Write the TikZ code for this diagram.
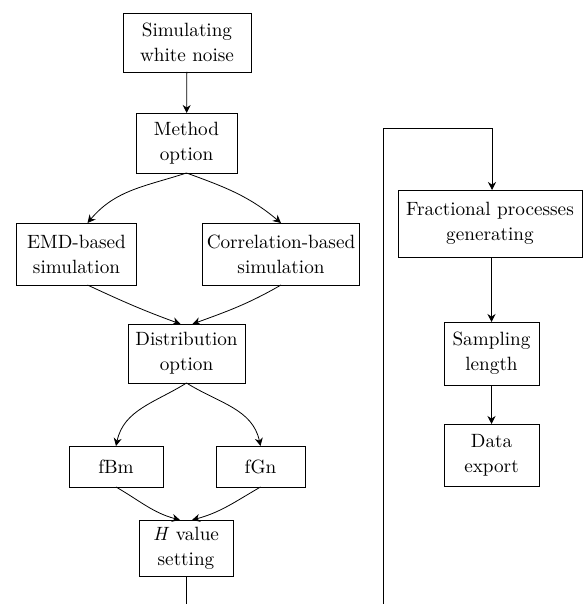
\documentclass[tikz,border=0pt]{standalone}
\usetikzlibrary{arrows.meta,positioning}

\begin{document}
\begin{tikzpicture}[x=0.5pt,y=-0.5pt,>={Stealth[length=4pt,width=4pt,inset=1.3pt]},
    block/.style={draw,rectangle,align=center,inner sep=2pt,outer sep=0pt,font=\fontsize{9.6}{12.5}\selectfont},
    flow/.style={->,thin}]

        \useasboundingbox (0,0) rectangle (584,604);

        \node [block, minimum width=64pt, minimum height=29.5pt] (noise) at (187,42.5) {Simulating\\white noise};
        \node [block, minimum width=50.5pt, minimum height=30pt] (method) at (186.5,143) {Method\\option};
        \node [block, minimum width=60pt, minimum height=31pt] (emd) at (76.5,254) {EMD-based\\simulation};
        \node [block, minimum width=77pt, minimum height=31pt] (corr) at (281,254) {Correlation-based\\simulation};
        \node [block, minimum width=58.5pt, minimum height=29.5pt] (dist) at (186.5,353.5) {Distribution\\option};
        \node [block, minimum width=47pt, minimum height=20.5pt] (fbm) at (116,466.5) {fBm};
        \node [block, minimum width=44.5pt, minimum height=20.5pt] (fgn) at (260.5,466.5) {fGn};
        \node [block, minimum width=47pt, minimum height=28pt] (hset) at (186,548) {\textit{H} value\\setting};
        \node [block, minimum width=92pt, minimum height=33.5pt] (frac) at (490,223.5) {Fractional processes\\generating};
        \node [block, minimum width=47.5pt, minimum height=31.5pt] (samp) at (491.5,353.5) {Sampling\\length};
        \node [block, minimum width=47.5pt, minimum height=31pt] (data) at (491.5,455) {Data\\export};

        \coordinate (hout) at (186,604);
        \coordinate (back) at (383,604);

          \draw [flow] (noise) -- (method);
          \draw [flow] (method.south) to [out=198,in=50] ([xshift=5.5pt]emd.north);
          \draw [flow] (method.south) to [out=-20,in=140] (corr.north);
          \draw [flow] ([xshift=5.5pt]emd.south) to [out=-25,in=160] ([xshift=-3pt]dist.north);
          \draw [flow] (corr.south) to [out=210,in=20] ([xshift=3pt]dist.north);
          \draw [flow] (dist.south) to [out=212,in=78] (fbm.north);
          \draw [flow] (dist.south) to [out=-32,in=102] (fgn.north);
          \draw [flow] (fbm.south) to [out=-30,in=165] ([xshift=-3pt]hset.north);
          \draw [flow] (fgn.south) to [out=210,in=15] ([xshift=3pt]hset.north);
          \draw (hset.south) -- (hout);
          \draw [flow] (back) |- ([xshift=1pt]frac.north |- 0,128) -- ([xshift=1pt]frac.north);
          \draw [flow] (frac.south -| samp.north) -- (samp.north);
          \draw [flow] (samp) -- (data);
        \end{tikzpicture}
\end{document}
